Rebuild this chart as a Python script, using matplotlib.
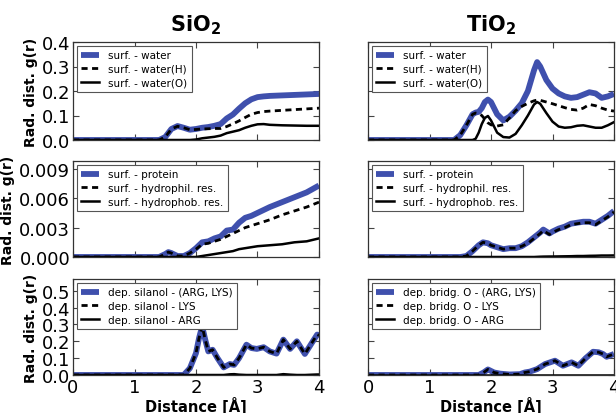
import numpy as np
import matplotlib
matplotlib.use("Agg")
import matplotlib.pyplot as plt
from matplotlib.ticker import FormatStrFormatter

# ---------------- data ----------------
# Top row: surface - water
x_sio2_w = [0, 1.4, 1.5, 1.6, 1.7, 1.8, 1.9, 2.0, 2.1, 2.2, 2.3, 2.4, 2.5, 2.6, 2.7, 2.8, 2.9, 3.0, 3.1, 3.2, 3.4, 3.6, 3.8, 4.0]
sio2_water = [0, 0, 0.012, 0.045, 0.057, 0.05, 0.042, 0.045, 0.05, 0.053, 0.058, 0.065, 0.088, 0.104, 0.128, 0.15, 0.166, 0.175, 0.178, 0.18, 0.182, 0.184, 0.186, 0.188]
sio2_water_h = [0, 0, 0.012, 0.045, 0.056, 0.05, 0.042, 0.043, 0.045, 0.046, 0.047, 0.047, 0.055, 0.066, 0.078, 0.092, 0.105, 0.112, 0.116, 0.118, 0.121, 0.124, 0.127, 0.13]
sio2_water_o = [0, 0, 0, 0, 0, 0, 0, 0.002, 0.007, 0.01, 0.013, 0.018, 0.028, 0.034, 0.04, 0.05, 0.058, 0.064, 0.065, 0.062, 0.06, 0.059, 0.058, 0.058]

x_tio2_w = [0, 1.4, 1.5, 1.6, 1.7, 1.75, 1.8, 1.85, 1.9, 1.95, 2.0, 2.1, 2.2, 2.3, 2.4, 2.5, 2.6, 2.7, 2.75, 2.8, 2.9, 3.0, 3.1, 3.2, 3.3, 3.4, 3.5, 3.6, 3.7, 3.8, 3.9, 4.0]
tio2_water = [0, 0, 0.02, 0.06, 0.105, 0.112, 0.115, 0.13, 0.155, 0.165, 0.155, 0.105, 0.08, 0.095, 0.12, 0.15, 0.2, 0.285, 0.318, 0.3, 0.245, 0.21, 0.19, 0.178, 0.172, 0.175, 0.185, 0.195, 0.19, 0.172, 0.178, 0.188]
tio2_water_h = [0, 0, 0.02, 0.06, 0.105, 0.11, 0.108, 0.1, 0.085, 0.07, 0.062, 0.057, 0.062, 0.09, 0.12, 0.137, 0.15, 0.16, 0.163, 0.162, 0.155, 0.148, 0.14, 0.132, 0.125, 0.122, 0.13, 0.145, 0.14, 0.13, 0.122, 0.118]
tio2_water_o = [0, 0, 0, 0, 0, 0.005, 0.03, 0.065, 0.09, 0.098, 0.08, 0.03, 0.012, 0.01, 0.025, 0.06, 0.1, 0.145, 0.155, 0.148, 0.11, 0.075, 0.055, 0.05, 0.052, 0.058, 0.06, 0.055, 0.05, 0.05, 0.06, 0.073]

# Middle row: surface - protein
x_sio2_p = [0, 1.4, 1.5, 1.55, 1.6, 1.7, 1.8, 1.9, 2.0, 2.1, 2.2, 2.3, 2.4, 2.5, 2.6, 2.7, 2.8, 2.9, 3.0, 3.2, 3.4, 3.6, 3.8, 4.0]
sio2_protein = [0, 0, 0.0003, 0.0005, 0.0004, 0.0001, 0.0001, 0.0004, 0.0009, 0.0015, 0.0016, 0.0019, 0.0021, 0.0027, 0.0028, 0.0035, 0.004, 0.0042, 0.0045, 0.0051, 0.0056, 0.0061, 0.0066, 0.0073]
sio2_hydrophil = [0, 0, 0.0003, 0.0005, 0.0004, 0.0001, 0.0001, 0.0004, 0.0008, 0.0013, 0.0014, 0.0016, 0.0018, 0.0021, 0.0024, 0.0027, 0.003, 0.0032, 0.0034, 0.0038, 0.0043, 0.0047, 0.0051, 0.0056]
sio2_hydrophob = [0, 0, 0, 0, 0, 0, 0, 0, 0, 0.0001, 0.0002, 0.0003, 0.0004, 0.0005, 0.0006, 0.0008, 0.0009, 0.001, 0.0011, 0.0012, 0.0013, 0.0015, 0.0016, 0.0019]

x_tio2_p = [0, 1.5, 1.6, 1.7, 1.8, 1.87, 1.95, 2.0, 2.1, 2.2, 2.3, 2.4, 2.5, 2.6, 2.7, 2.8, 2.85, 2.95, 3.0, 3.1, 3.2, 3.3, 3.4, 3.5, 3.6, 3.7, 3.8, 3.9, 4.0]
tio2_protein = [0, 0, 0.0001, 0.0006, 0.0012, 0.0015, 0.0014, 0.0012, 0.001, 0.0008, 0.0009, 0.0009, 0.0011, 0.0015, 0.002, 0.0025, 0.0028, 0.0024, 0.0026, 0.0029, 0.0031, 0.0034, 0.0035, 0.0036, 0.0036, 0.0034, 0.0038, 0.0042, 0.0047]
tio2_hydrophil = [0, 0, 0.0001, 0.0006, 0.0012, 0.0015, 0.0014, 0.0012, 0.001, 0.0008, 0.0009, 0.0009, 0.0011, 0.0014, 0.0019, 0.0024, 0.0027, 0.0023, 0.0025, 0.0028, 0.003, 0.0033, 0.0034, 0.0035, 0.0035, 0.0033, 0.0037, 0.0041, 0.0046]
tio2_hydrophob = [0, 0, 0, 0, 0, 0, 0, 0, 0, 0, 0, 0, 0, 0, 0, 0.00003, 0.00004, 0.00005, 0.00005, 0.00006, 0.00007, 0.00008, 0.0001, 0.0001, 0.00012, 0.00013, 0.00015, 0.00015, 0.00016]

# Bottom row: deprotonated sites - residues
x_sio2_d = [0, 1.8, 1.9, 2.0, 2.05, 2.1, 2.15, 2.2, 2.27, 2.35, 2.45, 2.55, 2.62, 2.7, 2.82, 2.9, 2.99, 3.1, 3.2, 3.31, 3.42, 3.53, 3.64, 3.77, 3.9, 3.97, 4.0]
sio2_arg_lys = [0, 0, 0.04, 0.13, 0.22, 0.29, 0.21, 0.14, 0.15, 0.1, 0.045, 0.065, 0.06, 0.1, 0.18, 0.16, 0.155, 0.165, 0.14, 0.127, 0.21, 0.155, 0.2, 0.125, 0.2, 0.24, 0.235]
sio2_lys = [0, 0, 0.04, 0.13, 0.22, 0.29, 0.21, 0.14, 0.15, 0.1, 0.045, 0.065, 0.06, 0.1, 0.18, 0.16, 0.155, 0.165, 0.14, 0.127, 0.21, 0.155, 0.2, 0.125, 0.2, 0.24, 0.235]
sio2_arg = [0, 0, 0, 0, 0, 0, 0, 0, 0, 0, 0, 0.004, 0.005, 0.002, 0, 0, 0, 0, 0, 0, 0.005, 0.002, 0, 0, 0.002, 0.003, 0.003]

x_tio2_d = [0, 1.8, 1.88, 1.95, 2.05, 2.15, 2.3, 2.47, 2.55, 2.63, 2.75, 2.88, 3.04, 3.17, 3.31, 3.42, 3.54, 3.66, 3.75, 3.82, 3.88, 4.0]
tio2_arg_lys = [0, 0, 0.015, 0.033, 0.015, 0.008, 0.003, 0.005, 0.015, 0.02, 0.035, 0.065, 0.085, 0.055, 0.075, 0.055, 0.1, 0.138, 0.135, 0.125, 0.108, 0.125]
tio2_lys = [0, 0, 0.015, 0.033, 0.015, 0.008, 0.003, 0.005, 0.015, 0.02, 0.035, 0.065, 0.085, 0.055, 0.075, 0.055, 0.1, 0.138, 0.135, 0.125, 0.108, 0.125]
tio2_arg = [0] * len(x_tio2_d)

titles = [r'$\mathbf{SiO_2}$', r'$\mathbf{TiO_2}$']
labels_water = ['surf. - water', 'surf. - water(H)', 'surf. - water(O)']
labels_protein = ['surf. - protein', 'surf. - hydrophil. res.', 'surf. - hydrophob. res.']
labels_dep_sio2 = ['dep. silanol - (ARG, LYS)', 'dep. silanol - LYS', 'dep. silanol - ARG']
labels_dep_tio2 = ['dep. bridg. O - (ARG, LYS)', 'dep. bridg. O - LYS', 'dep. bridg. O - ARG']

yticks_top = [0.0, 0.1, 0.2, 0.3, 0.4]
yticks_mid = [0.000, 0.003, 0.006, 0.009]
yticks_bot = [0.0, 0.1, 0.2, 0.3, 0.4, 0.5]
xticks = [0, 1, 2, 3, 4]

# ---------------- figure ----------------
W, H = 616, 414
fig = plt.figure(figsize=(W / 100, H / 100), dpi=100)

cols = [(73, 319), (368, 614)]
rows = [(43, 141), (162, 258), (280, 376)]

BLUE = '#3f50ad'

panels = [
    [(x_sio2_w, sio2_water, sio2_water_h, sio2_water_o, labels_water),
     (x_tio2_w, tio2_water, tio2_water_h, tio2_water_o, labels_water)],
    [(x_sio2_p, sio2_protein, sio2_hydrophil, sio2_hydrophob, labels_protein),
     (x_tio2_p, tio2_protein, tio2_hydrophil, tio2_hydrophob, labels_protein)],
    [(x_sio2_d, sio2_arg_lys, sio2_lys, sio2_arg, labels_dep_sio2),
     (x_tio2_d, tio2_arg_lys, tio2_lys, tio2_arg, labels_dep_tio2)],
]
ylims = [(0, 0.4), (0, 0.0098), (0, 0.57)]
yticks_all = [yticks_top, yticks_mid, yticks_bot]
yfmt = ['%.1f', '%.3f', '%.1f']

for r, (y0, y1) in enumerate(rows):
    for c, (x0, x1) in enumerate(cols):
        ax = fig.add_axes([x0 / W, 1 - y1 / H, (x1 - x0) / W, (y1 - y0) / H])
        xs, a, b, s, labs = panels[r][c]
        ax.plot(xs, a, color=BLUE, lw=4.2, label=labs[0], solid_capstyle='butt')
        ax.plot(xs, b, color='black', lw=2.0, ls=(0, (2.2, 1.6)), label=labs[1])
        ax.plot(xs, s, color='black', lw=1.8, label=labs[2])
        ax.set_xlim(0, 4)
        ax.set_ylim(*ylims[r])
        ax.set_xticks(xticks)
        ax.set_yticks(yticks_all[r])
        ax.yaxis.set_major_formatter(FormatStrFormatter(yfmt[r]))
        ax.tick_params(direction='in', top=True, right=True, length=4,
                       width=0.8, color='#444444', labelsize=13, pad=2)
        for sp in ax.spines.values():
            sp.set_color('#333333')
            sp.set_linewidth(0.9)
        if c == 1:
            ax.tick_params(labelleft=False)
        else:
            ax.set_ylabel('Rad. dist. g(r)', fontsize=10, fontweight='bold', labelpad=3)
        if r < 2:
            ax.tick_params(labelbottom=False)
        else:
            ax.set_xlabel('Distance [Å]', fontsize=10.5, fontweight='bold', labelpad=0)
        if r == 0:
            ax.set_title(titles[c], fontsize=15, pad=8)
        leg = ax.legend(loc='upper left', fontsize=7.5, fancybox=False,
                        framealpha=1, edgecolor='#555555', handlelength=1.7,
                        handletextpad=0.9, labelspacing=0.35, borderpad=0.4,
                        borderaxespad=0.4)
        leg.get_frame().set_linewidth(0.8)

fig.savefig('out.png', dpi=100)
